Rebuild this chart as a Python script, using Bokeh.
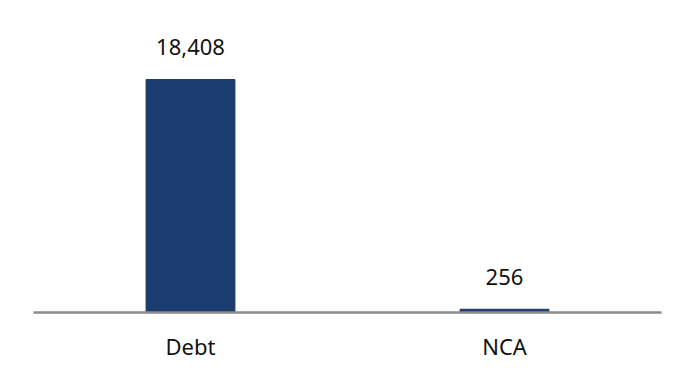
from bokeh.plotting import figure
from bokeh.models import ColumnDataSource, Range1d
from bokeh.core.properties import value
from bokeh.embed import file_html
from bokeh.resources import INLINE

categories = ["Debt", "NCA"]
values = [18408, 256]
labels = ["18,408", "256"]

src = ColumnDataSource(dict(cat=categories, val=values, lab=labels))

p = figure(x_range=categories, y_range=Range1d(0, 24649), width=694, height=382,
           output_backend="svg", toolbar_location=None,
           min_border_left=33, min_border_right=33, min_border_top=0, min_border_bottom=70)
p.vbar(x="cat", top="val", width=0.283, source=src, color="#1a3c6e")
p.text(x="cat", y="val", text="lab", source=src, text_align="center",
       text_baseline="middle", y_offset=-32, text_font_size="22px",
       text_font=value("Noto Sans"), text_color="#111111")

p.yaxis.visible = False
p.xgrid.visible = False
p.ygrid.visible = False
p.outline_line_color = None
xa = p.xaxis[0]
xa.axis_line_color = "#8a8a8a"
xa.axis_line_width = 2.5
xa.major_tick_line_color = None
xa.minor_tick_line_color = None
xa.major_label_text_font = "Noto Sans"
xa.major_label_text_font_size = "22px"
xa.major_label_text_color = "#111111"
xa.major_label_standoff = 12

open("out.html", "w").write(file_html(p, INLINE))
